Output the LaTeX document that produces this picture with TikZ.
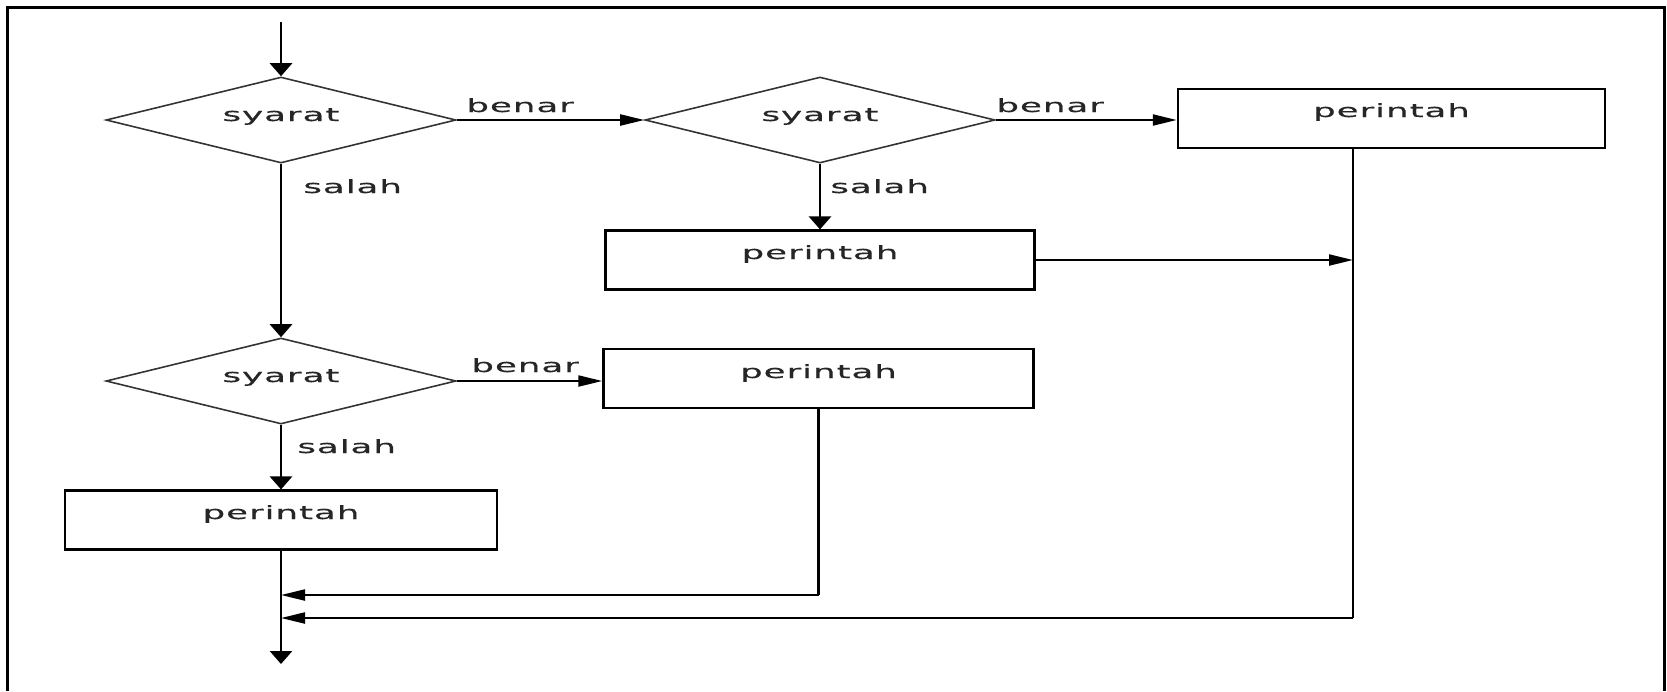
\documentclass[tikz,border=0pt]{standalone}
\usepackage{fontspec}
\newfontfamily\lblfont[FakeStretch=1.95,LetterSpace=5,FakeBold=0.4]{DejaVu Sans}
\usetikzlibrary{shapes.geometric,arrows.meta}
\begin{document}
\begin{tikzpicture}[x=0.6pt,y=-0.6pt,
  dia/.style={draw=black!80, line width=0.95pt, shape=diamond, inner sep=0pt, minimum width=210pt, minimum height=51.6pt},
  box/.style={draw=black, line width=1.5pt, inner sep=0pt, minimum height=35.2pt},
  txt/.style={font={\lblfont\fontsize{11pt}{13pt}\selectfont}, text=black!85, inner sep=0pt, anchor=base},
  lbl/.style={txt, anchor=base west},
  conn/.style={line width=1.3pt, draw=black},
  vconn/.style={line width=1.7pt, draw=black},
  vtip/.style={vconn, -{Triangle[length=7.8pt,width=13.2pt]}},
  htip/.style={conn, -{Triangle[length=14.4pt,width=6.6pt]}},
  frame/.style={line width=1.8pt, draw=black}
]
\useasboundingbox (0,0) rectangle (1667,691);
\draw[frame] (7,691) -- (7,7) -- (1664,7) -- (1664,691);

% decisions
\node[dia] (d1) at (281,120) {};
\node[dia] (d2) at (820,120) {};
\node[dia] (d3) at (281,381) {};
\node[txt] (t1) at (281,121) {syarat};
\node[txt] (t2) at (820,121) {syarat};
\node[txt] (t3) at (281,382) {syarat};

% process boxes
\node[box, minimum width=256.2pt] (r1) at (1391.5,118.5) {};
\node[box, minimum width=257.4pt] (r2) at (820,260) {};
\node[box, minimum width=258pt] (r3) at (818.5,378.5) {};
\node[box, minimum width=259.2pt] (r4) at (281,520) {};
\node[txt] (p1) at (1391.5,117) {perintah};
\node[txt] (p2) at (820,259) {perintah};
\node[txt] (p3) at (818.5,378) {perintah};
\node[txt] (p4) at (281,519) {perintah};

% labels
\node[lbl] (b1) at (466,112) {benar};
\node[lbl] (b2) at (996,112) {benar};
\node[lbl] (b3) at (471,372) {benar};
\node[lbl] (s1) at (303,193) {salah};
\node[lbl] (s2) at (830,193) {salah};
\node[lbl] (s3) at (297,453) {salah};

% helper coordinates
\coordinate (start) at (281,22);
\coordinate (endp) at (281,664);
\coordinate (r1b) at (1353,148);
\coordinate (j1) at (1353,260);
\coordinate (m1) at (281,595);
\coordinate (m2) at (281,618);

% connectors
\draw[vtip] (start) -- (d1.north);
\draw[htip] (d1.east) -- (d2.west);
\draw[htip] (d2.east) -- (d2.east -| r1.west);
\draw[vtip] (d2.south) -- (r2.north);
\draw[htip] (r2.east) -- (j1);
\draw[vtip] (d1.south) -- (d3.north);
\draw[htip] (d3.east) -- (d3.east -| r3.west);
\draw[vtip] (d3.south) -- (r4.north);
\draw[vtip] (r4.south) -- (endp);
\draw[vconn] (r3.south) -- (r3.south |- m1);
\draw[htip] (r3.south |- m1) -- (m1);
\draw[vconn] (r1b) -- (r1b |- m2);
\draw[htip] (r1b |- m2) -- (m2);
\end{tikzpicture}
\end{document}
